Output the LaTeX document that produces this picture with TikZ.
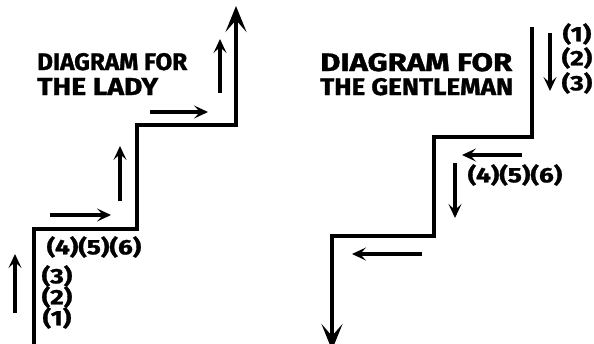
\documentclass[tikz,border=0pt]{standalone}
\usepackage{fontspec}
\usepackage{graphicx}
\setmainfont{Fira Sans}
\newfontfamily\handfont{Fira Sans}[FakeBold=1.2]
\usetikzlibrary{arrows.meta}
\newcommand{\widenum}[1]{\scalebox{1.25}[1]{#1}}
\begin{document}
\begin{tikzpicture}[x=1pt,y=-1pt,
  stair/.style={line width=4.5pt,line join=miter,line cap=butt},
  walk/.style={line width=3.8pt,-{Stealth[length=14pt,width=13pt,inset=6pt]}},
  mainarrow/.style={-{Stealth[length=26pt,width=21pt,inset=12pt]}},
  title/.style={font=\handfont\bfseries,anchor=base west,inner sep=0pt},
  num/.style={font=\handfont\bfseries\fontsize{21}{21}\selectfont,inner sep=0pt}]
\useasboundingbox (0,0) rectangle (594,343);

% ---- staircase going up ----
\coordinate (la) at (34,345);
\coordinate (lb) at (34,229);
\coordinate (lc) at (137,229);
\coordinate (ld) at (137,125);
\coordinate (le) at (236,125);
\coordinate (lf) at (236,6);
\draw[stair,mainarrow] (la) -- (lb) -- (lc) -- (ld) -- (le) -- (lf);

\node[title] (ltitle1) at (37,70) {\resizebox{150pt}{17pt}{DIAGRAM FOR}};
\node[title] (ltitle2) at (37,95) {\resizebox{121pt}{17pt}{THE LADY}};

\coordinate (u1s) at (15,313); \coordinate (u1e) at (15,254);
\draw[walk] (u1s) -- (u1e);
\coordinate (r1s) at (50,215); \coordinate (r1e) at (111,215);
\draw[walk] (r1s) -- (r1e);
\coordinate (u2s) at (120,201); \coordinate (u2e) at (120,146);
\draw[walk] (u2s) -- (u2e);
\coordinate (r2s) at (150,112); \coordinate (r2e) at (208,112);
\draw[walk] (r2s) -- (r2e);
\coordinate (u3s) at (220,93); \coordinate (u3e) at (220,39);
\draw[walk] (u3s) -- (u3e);

\node[num] (l3) at (57,276) {\widenum{(3)}};
\node[num] (l2) at (57,297) {\widenum{(2)}};
\node[num] (l1) at (57,318) {\widenum{(1)}};
\node[num] (l456) at (94,247) {\widenum{(4)(5)(6)}};

% ---- staircase going down ----
\coordinate (ra) at (532,27);
\coordinate (rb) at (532,137);
\coordinate (rc) at (434,137);
\coordinate (rd) at (434,236);
\coordinate (re) at (332,236);
\coordinate (rf) at (332,350);
\draw[stair,mainarrow] (ra) -- (rb) -- (rc) -- (rd) -- (re) -- (rf);

\node[title] (rtitle1) at (320,71) {\resizebox{192pt}{18pt}{DIAGRAM FOR}};
\node[title] (rtitle2) at (320,95) {\resizebox{193pt}{17pt}{THE GENTLEMAN}};

\coordinate (d1s) at (550,33); \coordinate (d1e) at (550,91);
\draw[walk] (d1s) -- (d1e);
\coordinate (w1s) at (522,155); \coordinate (w1e) at (462,155);
\draw[walk] (w1s) -- (w1e);
\coordinate (d2s) at (455,163); \coordinate (d2e) at (455,218);
\draw[walk] (d2s) -- (d2e);
\coordinate (w2s) at (422,254); \coordinate (w2e) at (352,254);
\draw[walk] (w2s) -- (w2e);

\node[num] (g1) at (577,34) {\widenum{(1)}};
\node[num] (g2) at (577,58) {\widenum{(2)}};
\node[num] (g3) at (577,83) {\widenum{(3)}};
\node[num] (g456) at (515,175) {\widenum{(4)(5)(6)}};
\end{tikzpicture}
\end{document}
